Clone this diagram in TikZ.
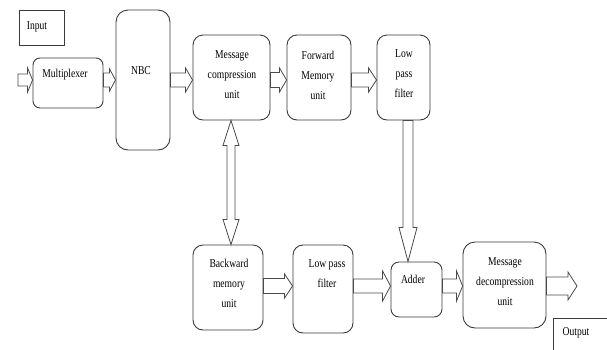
\documentclass[tikz,border=0pt]{standalone}
\usepackage{fontspec}
\setmainfont{Liberation Serif}[FakeStretch=0.8]
\usetikzlibrary{calc}
\definecolor{boxcol}{HTML}{3A3A3A}
\definecolor{arrcol}{HTML}{4A4A4A}
\tikzset{
  abw/.store in=\fbw, ahw/.store in=\fhw, ahl/.store in=\fhl,
  abw=7pt, ahw=12pt, ahl=8pt,
  fatarrow/.style={draw=arrcol, line width=0.8pt, line join=miter, to path={
    let \p1=(\tikztostart), \p2=(\tikztotarget), \p3=($(\p2)!\fhl!(\p1)$) in
    ($(\p1)!\fbw!90:(\p2)$) -- ($(\p3)!\fbw!90:(\p2)$) -- ($(\p3)!\fhw!90:(\p2)$)
    -- (\p2) -- ($(\p3)!\fhw!-90:(\p2)$) -- ($(\p3)!\fbw!-90:(\p2)$)
    -- ($(\p1)!\fbw!-90:(\p2)$) -- cycle}},
  fatdouble/.style={draw=arrcol, line width=0.8pt, line join=miter, to path={
    let \p1=(\tikztostart), \p2=(\tikztotarget), \p3=($(\p2)!\fhl!(\p1)$), \p4=($(\p1)!\fhl!(\p2)$) in
    (\p1) -- ($(\p4)!\fhw!90:(\p2)$) -- ($(\p4)!\fbw!90:(\p2)$) -- ($(\p3)!\fbw!90:(\p2)$)
    -- ($(\p3)!\fhw!90:(\p2)$) -- (\p2) -- ($(\p3)!\fhw!-90:(\p2)$) -- ($(\p3)!\fbw!-90:(\p2)$)
    -- ($(\p4)!\fbw!-90:(\p2)$) -- ($(\p4)!\fhw!-90:(\p2)$) -- cycle}},
  blk/.style={draw=boxcol, line width=0.9pt, rounded corners=#1, inner sep=0pt},
  blk/.default=10pt,
  plain/.style={draw=boxcol, line width=0.9pt, inner sep=0pt},
  txt/.style={font=\fontsize{12}{20}\selectfont, align=center, inner sep=0pt, text=black}
}
\begin{document}
\begin{tikzpicture}[x=1pt,y=-1pt]
\useasboundingbox (0,0) rectangle (607,349);
\clip (0,0) rectangle (607,349);
\coordinate (rowA) at (0,80);
\coordinate (rowB) at (0,286);
\coordinate (colA) at (231,0);
\coordinate (colB) at (408,0);
\coordinate (inL) at (18,80);
\coordinate (outR) at (577,286);

% boxes
\node[plain, minimum width=45pt, minimum height=35pt] (inbox) at (41.5,27.5) {};
\node[blk=7pt, minimum width=70pt, minimum height=50pt] (mux) at (68,83) {};
\node[blk=12pt, minimum width=54pt, minimum height=140pt] (nbc) at (143,80) {};
\node[blk, minimum width=77pt, minimum height=85pt] (mcu) at (231.5,77.5) {};
\node[blk, minimum width=64pt, minimum height=85pt] (fmu) at (319,77.5) {};
\node[blk, minimum width=53pt, minimum height=85pt] (lpf) at (403.5,77.5) {};
\node[blk, minimum width=70pt, minimum height=85pt] (bmu) at (228,287.5) {};
\node[blk, minimum width=60pt, minimum height=88pt] (lpfb) at (323,289) {};
\node[blk=8pt, minimum width=51pt, minimum height=55pt] (add) at (416.5,289.5) {};
\node[blk=12pt, minimum width=83pt, minimum height=86pt] (mdu) at (504.5,285) {};
\node[plain, minimum width=67pt, minimum height=42pt] (outbox) at (586.5,339) {};

% texts
\node[txt] (t-in) at (37,27) {Input};
\node[txt] (t-mux) at (65,75) {Multiplexer};
\node[txt] (t-nbc) at (141,71) {NBC};
\node[txt] (t-mcu) at (232,75) {Message\\compression\\unit};
\node[txt] (t-fmu) at (318,75) {Forward\\Memory\\unit};
\node[txt] (t-lpf) at (404,74) {Low\\pass\\filter};
\node[txt] (t-bmu) at (229,283) {Backward\\memory\\unit};
\node[txt] (t-lpfb) at (327,274) {Low pass\\filter};
\node[txt] (t-add) at (413,279) {Adder};
\node[txt] (t-mdu) at (505,282) {Message\\decompression\\unit};
\node[txt] (t-out) at (576,333) {Output};

% arrows
\draw[fatarrow, abw=6pt, ahw=12pt, ahl=5pt] (inL) to (mux.west |- rowA);
\draw[fatarrow, abw=7pt, ahw=11pt, ahl=6pt] (mux.east |- rowA) to (nbc.west |- rowA);
\draw[fatarrow, abw=7pt, ahw=12pt, ahl=7pt] (nbc.east |- rowA) to (mcu.west |- rowA);
\draw[fatarrow, abw=7.5pt, ahw=12pt, ahl=7pt] (mcu.east |- rowA) to (fmu.west |- rowA);
\draw[fatarrow, abw=7pt, ahw=12pt, ahl=8pt] (fmu.east |- rowA) to (lpf.west |- rowA);
\draw[fatdouble, abw=4pt, ahw=8pt, ahl=25pt] (mcu.south -| colA) to (bmu.north -| colA);
\draw[fatarrow, abw=5pt, ahw=9pt, ahl=34pt] (lpf.south -| colB) to (add.north -| colB);
\draw[fatarrow, abw=7.5pt, ahw=12pt, ahl=8pt] (bmu.east |- rowB) to (lpfb.west |- rowB);
\draw[fatarrow, abw=7pt, ahw=15pt, ahl=8pt] (lpfb.east |- rowB) to (add.west |- rowB);
\draw[fatarrow, abw=7pt, ahw=15pt, ahl=6pt] (add.east |- rowB) to (mdu.west |- rowB);
\draw[fatarrow, abw=9pt, ahw=14pt, ahl=9pt] (mdu.east |- rowB) to (outR);
\end{tikzpicture}
\end{document}
